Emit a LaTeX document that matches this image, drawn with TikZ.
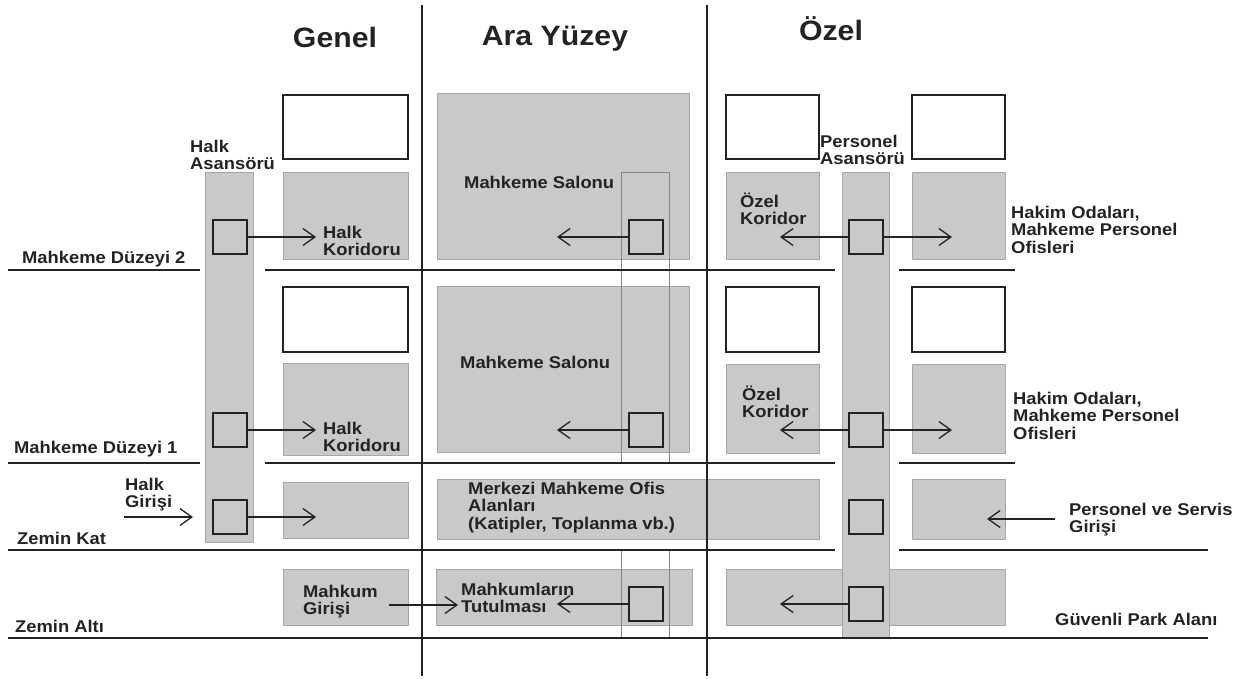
\documentclass[tikz,border=0pt]{standalone}
\usepackage{fontspec}
\setmainfont{Liberation Sans}[FakeStretch=1.08]
\usetikzlibrary{arrows.meta}
\definecolor{boxgray}{RGB}{200,201,203}
\definecolor{boxedge}{RGB}{165,166,168}
\definecolor{ink}{RGB}{35,35,35}
\newcommand\txtstack[1]{\vtop{\halign{##\hfil\cr#1\crcr}}}
\tikzset{
  gbox/.style={draw=boxedge, line width=0.8pt, fill=boxgray, anchor=north west, inner sep=0pt, outer sep=0pt},
  wbox/.style={draw=ink, line width=1.3pt, fill=white, anchor=north west, inner sep=0pt, outer sep=0pt},
  shaftline/.style={draw=boxedge!80!black, line width=0.7pt, anchor=north west, inner sep=0pt, outer sep=0pt},
  sqbox/.style={draw=ink, line width=1.3pt, minimum width=34pt, minimum height=34pt, anchor=north west, inner sep=0pt, outer sep=0pt},
  lbl/.style={anchor=base west, inner sep=0pt, text=ink, font=\fontsize{17}{17.5}\selectfont\bfseries},
  ttl/.style={anchor=base, inner sep=0pt, text=ink, font=\fontsize{28}{30}\selectfont\bfseries},
  arr/.style={draw=ink, line width=1.3pt, -{Straight Barb[length=12pt,width=17pt]}},
  floorline/.style={draw=ink, line width=1.4pt},
  divline/.style={draw=ink, line width=1.3pt},
}
\begin{document}
\begin{tikzpicture}[x=1pt,y=-1pt]
\useasboundingbox (0,0) rectangle (1246,678);
% gray boxes
\node[gbox, minimum width=125pt, minimum height=87pt] (g2) at (283,172) {};
\node[gbox, minimum width=125pt, minimum height=92pt] (g1) at (283,363) {};
\node[gbox, minimum width=125pt, minimum height=56pt] (g0) at (283,482) {};
\node[gbox, minimum width=125pt, minimum height=56pt] (gb) at (283,569) {};
\node[gbox, minimum width=252pt, minimum height=166pt] (cs2) at (437,93) {};
\node[gbox, minimum width=252pt, minimum height=166pt] (cs1) at (437,286) {};
\node[gbox, minimum width=382pt, minimum height=60pt] (mer) at (437,479) {};
\node[gbox, minimum width=256pt, minimum height=56pt] (mt) at (436,569) {};
\node[gbox, minimum width=93pt, minimum height=87pt] (ok2) at (726,172) {};
\node[gbox, minimum width=93pt, minimum height=89pt] (ok1) at (726,364) {};
\node[gbox, minimum width=93pt, minimum height=87pt] (ho2) at (912,172) {};
\node[gbox, minimum width=93pt, minimum height=89pt] (ho1) at (912,364) {};
\node[gbox, minimum width=93pt, minimum height=60pt] (pe) at (912,479) {};
\node[gbox, minimum width=279pt, minimum height=56pt] (park) at (726,569) {};
% shafts
\node[gbox, minimum width=48pt, minimum height=370pt] (hs) at (205,172) {};
\node[gbox, minimum width=47pt, minimum height=466pt] (ps) at (842,172) {};
\node[shaftline, minimum width=48pt, minimum height=291pt] (ds1) at (621,172) {};
\node[shaftline, minimum width=48pt, minimum height=88pt] (ds2) at (621,550) {};
% white boxes
\node[wbox, minimum width=125pt, minimum height=64pt] (w1) at (283,95) {};
\node[wbox, minimum width=125pt, minimum height=65pt] (w2) at (283,287) {};
\node[wbox, minimum width=93pt, minimum height=64pt] (w3) at (726,95) {};
\node[wbox, minimum width=93pt, minimum height=65pt] (w4) at (726,287) {};
\node[wbox, minimum width=93pt, minimum height=64pt] (w5) at (912,95) {};
\node[wbox, minimum width=93pt, minimum height=65pt] (w6) at (912,287) {};
% squares
\node[sqbox] (hq2) at (213,220) {};
\node[sqbox] (hq1) at (213,413) {};
\node[sqbox] (hq0) at (213,500) {};
\node[sqbox] (dq2) at (629,220) {};
\node[sqbox] (dq1) at (629,413) {};
\node[sqbox] (dqb) at (629,587) {};
\node[sqbox] (pq2) at (849,220) {};
\node[sqbox] (pq1) at (849,413) {};
\node[sqbox] (pq0) at (849,500) {};
\node[sqbox] (pqb) at (849,587) {};
% floor lines
\draw[floorline] (8,270) -- (200,270) (265,270) -- (835,270) (899,270) -- (1015,270);
\draw[floorline] (8,463) -- (200,463) (265,463) -- (835,463) (899,463) -- (1015,463);
\draw[floorline] (8,550) -- (835,550) (899,550) -- (1208,550);
\draw[floorline] (8,638) -- (1208,638);
% dividers
\draw[divline] (422,5) -- (422,676);
\draw[divline] (707,5) -- (707,676);
% arrow end coordinates
\coordinate (ha2) at (316,237);
\coordinate (ha1) at (316,430);
\coordinate (ha0) at (316,517);
\coordinate (hgs) at (124,517);
\coordinate (hge) at (193,517);
\coordinate (mgs) at (389,605);
\coordinate (mge) at (458,605);
\coordinate (da2) at (557,237);
\coordinate (da1) at (557,430);
\coordinate (dab) at (557,604);
\coordinate (pl2) at (780,237);
\coordinate (pl1) at (780,430);
\coordinate (plb) at (780,604);
\coordinate (pr2) at (952,237);
\coordinate (pr1) at (952,430);
\coordinate (pes) at (1055,519);
\coordinate (pee) at (987,519);
% arrows
\draw[arr] (hq2.east) -- (ha2);
\draw[arr] (hq1.east) -- (ha1);
\draw[arr] (hq0.east) -- (ha0);
\draw[arr] (hgs) -- (hge);
\draw[arr] (mgs) -- (mge);
\draw[arr] (dq2.west) -- (da2);
\draw[arr] (dq1.west) -- (da1);
\draw[arr] (dqb.west) -- (dab);
\draw[arr] (pq2.west) -- (pl2);
\draw[arr] (pq1.west) -- (pl1);
\draw[arr] (pqb.west) -- (plb);
\draw[arr] (pq2.east) -- (pr2);
\draw[arr] (pq1.east) -- (pr1);
\draw[arr] (pes) -- (pee);
% titles
\node[ttl] (tg) at (335,47) {Genel};
\node[ttl] (ta) at (555,45) {Ara Yüzey};
\node[ttl] (to) at (831,40) {Özel};
% labels
\node[lbl] (l2) at (22,263) {Mahkeme Düzeyi 2};
\node[lbl] (l1) at (14,453) {Mahkeme Düzeyi 1};
\node[lbl] (l0) at (17,544) {Zemin Kat};
\node[lbl] (lb) at (15,632) {Zemin Altı};
\node[lbl] (thas) at (190,152) {\txtstack{Halk\cr Asansörü}};
\node[lbl] (tpas) at (820,147) {\txtstack{Personel\cr Asansörü}};
\node[lbl] (thk2) at (323,238) {\txtstack{Halk\cr Koridoru}};
\node[lbl] (thk1) at (323,434) {\txtstack{Halk\cr Koridoru}};
\node[lbl] (thg) at (125,490) {\txtstack{Halk\cr Girişi}};
\node[lbl] (tms2) at (464,188) {Mahkeme Salonu};
\node[lbl] (tms1) at (460,368) {Mahkeme Salonu};
\node[lbl] (tmer) at (468,494) {\txtstack{Merkezi Mahkeme Ofis\cr Alanları\cr (Katipler, Toplanma vb.)}};
\node[lbl] (tmt) at (461,595) {\txtstack{Mahkumların\cr Tutulması}};
\node[lbl] (tmg) at (303,597) {\txtstack{Mahkum\cr Girişi}};
\node[lbl] (tok2) at (740,207) {\txtstack{Özel\cr Koridor}};
\node[lbl] (tok1) at (742,400) {\txtstack{Özel\cr Koridor}};
\node[lbl] (tho2) at (1011,218) {\txtstack{Hakim Odaları,\cr Mahkeme Personel\cr Ofisleri}};
\node[lbl] (tho1) at (1013,404) {\txtstack{Hakim Odaları,\cr Mahkeme Personel\cr Ofisleri}};
\node[lbl] (tpsg) at (1069,515) {\txtstack{Personel ve Servis\cr Girişi}};
\node[lbl] (tgpa) at (1055,625) {Güvenli Park Alanı};
\end{tikzpicture}
\end{document}
